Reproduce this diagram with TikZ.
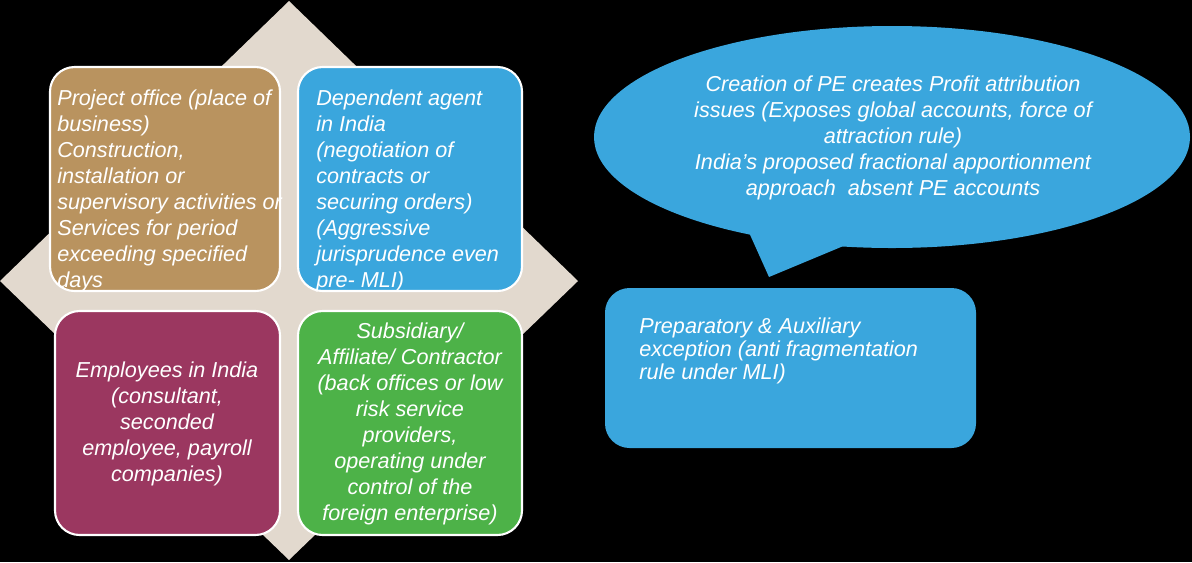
\documentclass[tikz,border=0pt]{standalone}
\usepackage{fontspec}
\setmainfont{Liberation Sans}
\definecolor{diamondbg}{RGB}{226,217,206}
\definecolor{projbrown}{RGB}{185,147,95}
\definecolor{agentblue}{RGB}{58,166,221}
\definecolor{emplmagenta}{RGB}{155,55,96}
\definecolor{subsgreen}{RGB}{77,178,72}
\tikzset{
  quadbox/.style={draw=white, line width=1.2pt, rounded corners=14pt},
  boxtext/.style={text=white, inner sep=0pt, font=\itshape\fontsize{12.3}{14.8}\selectfont},
}
\begin{document}
\begin{tikzpicture}[x=0.02cm, y=-0.02cm]
            \useasboundingbox (0,0) rectangle (1192,562);
            \fill[black] (0,0) rectangle (1192,562);
            % diamond behind the four boxes
            \fill[diamondbg] (289,1) -- (578,281) -- (289,560) -- (0,281) -- cycle;
            \draw[quadbox, fill=projbrown] (50,67) rectangle (280,291);
            \draw[quadbox, fill=agentblue] (298,67) rectangle (522,291);
            \draw[quadbox, fill=emplmagenta] (55,311) rectangle (280,535);
            \draw[quadbox, fill=subsgreen] (298,311) rectangle (522,535);
            \node[boxtext, align=left, anchor=west] (project) at (57,191)
                {Project office (place of\\ business)\\ Construction,\\ installation or\\
                 supervisory activities or\\ Services for period\\ exceeding specified\\ days};
            \node[boxtext, align=left, anchor=west] (agent) at (316,191)
                {Dependent agent\\ in India\\ (negotiation of\\ contracts or\\
                 securing orders)\\ (Aggressive\\ jurisprudence even\\ pre- MLI)};
            \node[boxtext, align=center] (employees) at (167,424)
                {Employees in India\\ (consultant,\\ seconded\\ employee, payroll\\ companies)};
            \node[boxtext, align=center] (subsidiary) at (410,424)
                {Subsidiary/\\ Affiliate/ Contractor\\ (back offices or low\\ risk service\\
                 providers,\\ operating under\\ control of the\\ foreign enterprise)};
            % callout with its tail
            \fill[agentblue] (892,137) ellipse [x radius=298, y radius=111];
            \fill[agentblue] (747,228) -- (769,277) -- (853,242) -- cycle;
            \node[boxtext, align=center] (profit) at (893,138)
                {Creation of PE creates Profit attribution\\ issues (Exposes global accounts, force of\\
                 attraction rule)\\ India’s proposed fractional apportionment\\ approach\ \ absent PE accounts};
            \fill[agentblue, rounded corners=14pt] (605,288) rectangle (976,448);
            \node[boxtext, align=left, anchor=west, font=\itshape\fontsize{12.3}{13.1}\selectfont] (prep) at (639,351)
                {Preparatory \& Auxiliary\\ exception (anti fragmentation\\ rule under MLI)};
        \end{tikzpicture}
\end{document}
